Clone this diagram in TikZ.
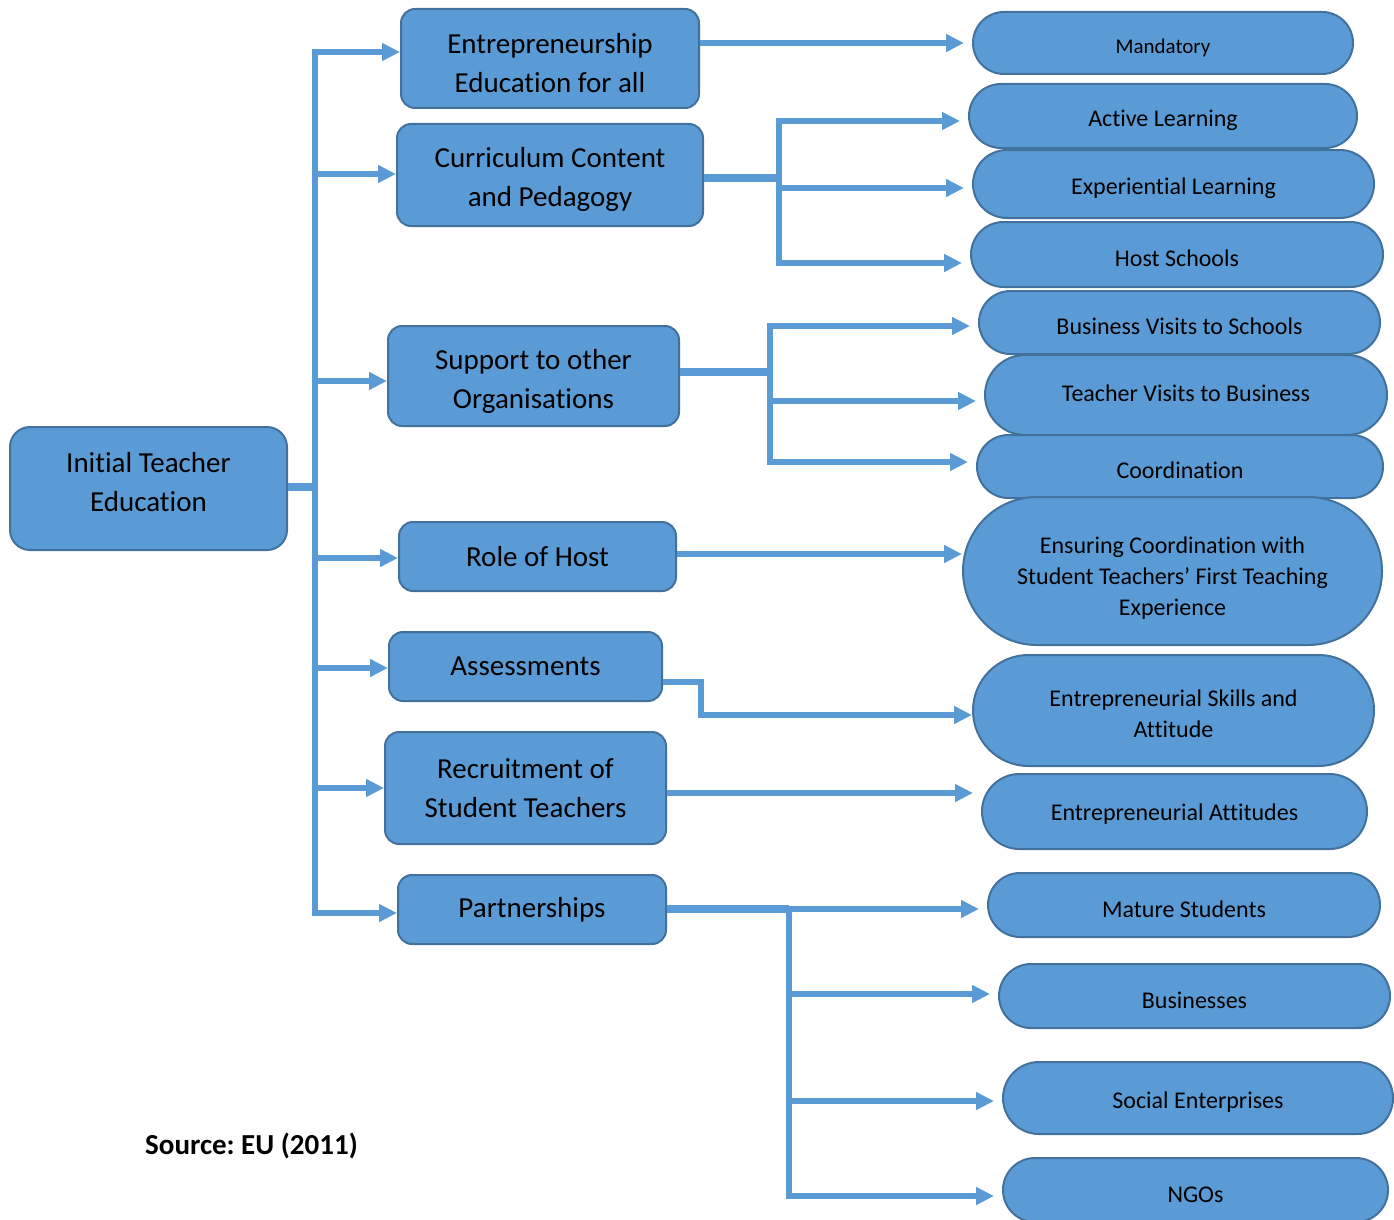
\documentclass[tikz,border=0pt]{standalone}
\usepackage{fontspec}
\setmainfont{Carlito}[Ligatures=NoCommon]
\frenchspacing
\usetikzlibrary{shapes.misc, arrows.meta, positioning}
\definecolor{boxfill}{HTML}{5B9BD5}
\definecolor{boxline}{HTML}{41719C}

\begin{document}
\begin{tikzpicture}[
  x=1pt, y=-1pt,
  box/.style={rectangle, draw=boxline, line width=2pt, fill=boxfill, rounded corners=14pt, align=center, font=\fontsize{29}{39}\selectfont},
  pill/.style={rounded rectangle, draw=boxline, line width=2pt, fill=boxfill, align=center, inner xsep=0pt, inner ysep=0pt, text height=25pt, font=\fontsize{24}{31}\selectfont},
  arrow/.style={-{Triangle[length=18pt, width=17pt]}, draw=boxfill, line width=5.5pt},
  farrow/.style={arrow, shorten >=8pt},
  link/.style={draw=boxfill, line width=8pt}
]
  \useasboundingbox (0,0) rectangle (1394,1220);

  % left column
  \node[box, minimum width=277pt, minimum height=123pt, rounded corners=20pt, text height=46pt] (ite) at (148.5,488.5) {Initial Teacher\\Education};

  \node[box, minimum width=298pt, minimum height=99pt, text height=68pt] (entr) at (550,58.5) {Entrepreneurship\\Education for all};
  \node[box, minimum width=306pt, minimum height=102pt, text height=68pt] (curr) at (550,175) {Curriculum Content\\and Pedagogy};
  \node[box, minimum width=291pt, minimum height=100pt, text height=70pt] (supp) at (533.5,376) {Support to other\\Organisations};
  \node[box, minimum width=277pt, minimum height=69pt] (role) at (537.5,556.5) {Role of Host};
  \node[box, minimum width=273pt, minimum height=69pt] (assess) at (525.5,666.5) {Assessments};
  \node[box, minimum width=281pt, minimum height=112pt] (recruit) at (525.5,788) {Recruitment of\\Student Teachers};
  \node[box, minimum width=268pt, minimum height=69pt] (partner) at (532,909.5) {Partnerships};

  % right column
  \node[pill, minimum width=380pt, minimum height=62pt, font=\fontsize{21}{27}\selectfont] (mand) at (1163,43) {Mandatory};
  \node[pill, minimum width=388pt, minimum height=64pt] (active) at (1163,116) {Active Learning};
  \node[pill, minimum width=401pt, minimum height=68pt] (exper) at (1173.5,184) {Experiential Learning};
  \node[pill, minimum width=412pt, minimum height=65pt] (hosts) at (1177,254.5) {Host Schools};
  \node[pill, minimum width=401pt, minimum height=63pt] (bvisit) at (1179.5,322.5) {Business Visits to Schools};
  \node[pill, minimum width=402pt, minimum height=80pt, text height=13pt] (tvisit) at (1186,395) {Teacher Visits to Business};
  \node[pill, minimum width=406pt, minimum height=63pt] (coord) at (1180,466.5) {Coordination};
  \node[pill, minimum width=419pt, minimum height=148pt, text height=68pt] (ensure) at (1172.5,571) {\makebox[0pt]{\begin{tabular}{@{}c@{}}Ensuring Coordination with\\Student Teachers’ First Teaching\\Experience\end{tabular}}};
  \node[pill, minimum width=401pt, minimum height=111pt, text height=55pt] (skills) at (1173.5,710.5) {Entrepreneurial Skills and\\Attitude};
  \node[pill, minimum width=385pt, minimum height=75pt, text height=21pt] (attit) at (1174.5,811.5) {Entrepreneurial Attitudes};
  \node[pill, minimum width=392pt, minimum height=64pt] (mature) at (1184,905) {Mature Students};
  \node[pill, minimum width=391pt, minimum height=64pt] (busin) at (1194.5,996) {Businesses};
  \node[pill, minimum width=390pt, minimum height=72pt] (social) at (1198,1098) {Social Enterprises};
  \node[pill, minimum width=385pt, minimum height=64pt] (ngo) at (1195.5,1190) {NGOs};

  \node[font=\bfseries\fontsize{29}{35}\selectfont] (source) at (251.5,1146) {Source: EU (2011)};

  % trunk from Initial Teacher Education
  \coordinate (hub) at (315,487);
  \draw[link] (ite.east |- hub) -- (hub);
  \draw[arrow] (hub) |- (entr.west |- 0,52);
  \draw[arrow] (hub) |- (curr.west |- 0,174);
  \draw[arrow] (hub) |- (supp.west |- 0,381);
  \draw[arrow] (hub) |- (role.west |- 0,558);
  \draw[arrow] (hub) |- (assess.west |- 0,668);
  \draw[arrow] (hub) |- (recruit.west);
  \draw[arrow] (hub) |- (partner.west |- 0,913);

  % second level
  \draw[farrow] (entr.east |- mand.west) -- (mand.west);

  \coordinate (chub) at (779,178);
  \draw[link] (curr.east |- chub) -- (chub);
  \draw[farrow] (chub) |- (active.west |- 0,121);
  \draw[farrow] (chub) |- (exper.west |- 0,188);
  \draw[farrow] (chub) |- (hosts.west |- 0,263);

  \coordinate (shub) at (770,372);
  \draw[link] (supp.east |- shub) -- (shub);
  \draw[farrow] (shub) |- (bvisit.west |- 0,326);
  \draw[farrow] (shub) |- (tvisit.west |- 0,401);
  \draw[farrow] (shub) |- (coord.west |- 0,462);

  \draw[arrow] (role.east |- 0,554) -- (ensure.west |- 0,554);
  \draw[arrow] (assess.east |- 0,682) -- ++(38,0) |- (skills.west |- 0,715);
  \draw[farrow] (recruit.east |- 0,793) -- (attit.west |- 0,793);

  \coordinate (phub) at (789,909);
  \draw[link] (partner.east |- phub) -- (phub);
  \draw[farrow] (phub) -- (phub -| mature.west);
  \draw[farrow] (phub) |- (busin.west |- 0,994);
  \draw[farrow] (phub) |- (social.west |- 0,1101);
  \draw[farrow] (phub) |- (ngo.west |- 0,1196);
\end{tikzpicture}
\end{document}
